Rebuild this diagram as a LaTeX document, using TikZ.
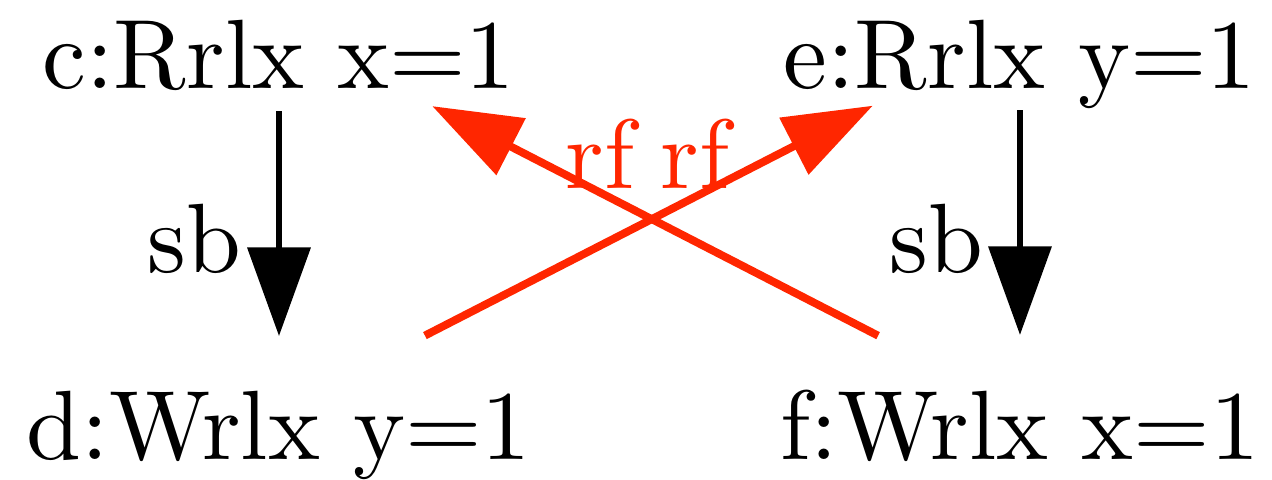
\documentclass[tikz,border=0pt]{standalone}
\usepackage{xcolor}
\usepackage{tikz}
\usetikzlibrary{arrows.meta, calc}
\definecolor{rfRed}{HTML}{FF2600}
\definecolor{sbBlack}{HTML}{000000}

\begin{document}
\begin{tikzpicture}[x=0.1015pt, y=-0.1015pt, evt/.style={inner sep=0pt, anchor=base}, lbl/.style={inner sep=0pt, anchor=base}, sbEdge/.style={draw=sbBlack, line width=0.7pt, -{Triangle[length=9pt, width=6.3pt]}}, rfEdge/.style={draw=rfRed, line width=0.8pt, -{Triangle[length=9pt, width=6.3pt]}}]
\useasboundingbox (0,0) rectangle (1272,479);
\node[evt] (c) at (279,88) {c:Rrlx x=1};
\node[evt] (d) at (279,459) {d:Wrlx y=1};
\node[evt] (e) at (1020,88) {e:Rrlx y=1};
\node[evt] (f) at (1020,459) {f:Wrlx x=1};
\draw[sbEdge, shorten <=1.93pt, shorten >=5.34pt] (c.south) -- (c.south |- d.north);
\draw[sbEdge, shorten >=5.34pt] (e.south) -- (e.south |- f.north);
\node[lbl, anchor=base east] (sbL) at (243,272) {sb};
\node[lbl, anchor=base east] (sbR) at (985,272) {sb};
\draw[rfEdge, shorten <=16.65pt, shorten >=16.8pt] ([yshift=2.48pt]d.center) -- ([yshift=3.43pt]e.center);
\draw[rfEdge, shorten <=16.2pt, shorten >=17.5pt] ([yshift=1.69pt]f.center) -- ([yshift=2.81pt]c.center);
\node[lbl, text=rfRed] (rfA) at (600,188) {rf};
\node[lbl, text=rfRed] (rfB) at (695,188) {rf};
\end{tikzpicture}
\end{document}
